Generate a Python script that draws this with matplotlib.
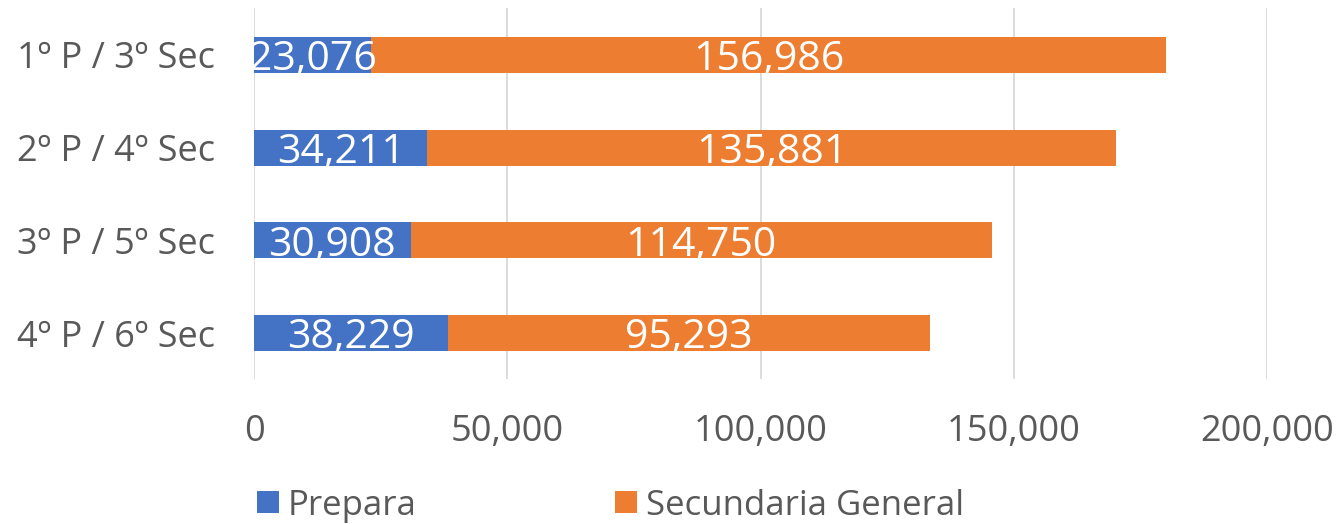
import matplotlib

matplotlib.use("Agg")
import matplotlib.pyplot as plt
from matplotlib.ticker import FuncFormatter

plt.rcParams["font.family"] = ["Open Sans", "DejaVu Sans"]

categories = ["1º P / 3º Sec", "2º P / 4º Sec", "3º P / 5º Sec", "4º P / 6º Sec"]
prepara = [23076, 34211, 30908, 38229]
secundaria = [156986, 135881, 114750, 95293]
series_names = ["Prepara", "Secundaria General"]

BLUE = "#4472C4"
ORANGE = "#ED7D31"
GREY_TEXT = "#595959"

fig = plt.figure(figsize=(13.37, 5.24), dpi=100)
ax = fig.add_axes([0.19, 0.2758, 0.7577, 0.708])

ypos = list(range(len(categories)))
b1 = ax.barh(ypos, prepara, height=0.39, color=BLUE, label=series_names[0], zorder=2)
b2 = ax.barh(ypos, secundaria, left=prepara, height=0.39, color=ORANGE,
             label=series_names[1], zorder=2)

# value labels centred in each segment
for bars, vals in ((b1, prepara), (b2, secundaria)):
    for rect, v in zip(bars, vals):
        ax.text(rect.get_x() + rect.get_width() / 2, rect.get_y() + rect.get_height() / 2,
                f"{v:,}", ha="center", va="center_baseline", color="white",
                fontsize=29.5, zorder=3)

ax.set_xlim(0, 200000)
ax.set_ylim(len(categories) - 0.5, -0.5)
ax.set_xticks([0, 50000, 100000, 150000, 200000])
ax.xaxis.set_major_formatter(FuncFormatter(lambda v, _: f"{int(v):,}"))
ax.set_yticks(ypos)
ax.set_yticklabels(categories)
ax.tick_params(axis="both", length=0, labelsize=26, colors=GREY_TEXT)
ax.tick_params(axis="x", pad=25)
ax.tick_params(axis="y", pad=28)
ax.grid(axis="x", color="#D9D9D9", linewidth=1.3, zorder=0)
for s in ax.spines.values():
    s.set_visible(False)

leg = fig.legend(handles=[b1, b2], loc="center left", bbox_to_anchor=(0.1922, 0.035),
                 ncol=2, frameon=False, fontsize=25, handlelength=0.63, handleheight=0.6,
                 handletextpad=0.26, columnspacing=5.7, borderpad=0, borderaxespad=0)
for t in leg.get_texts():
    t.set_color(GREY_TEXT)

fig.savefig("out.png", dpi=100)
